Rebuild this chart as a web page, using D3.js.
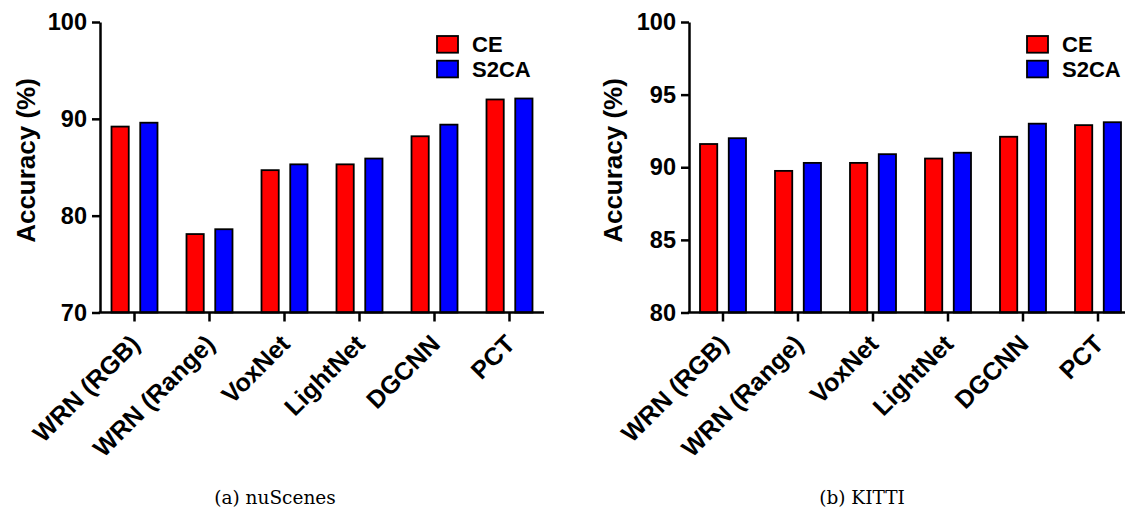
<!DOCTYPE html>
<html>
<head>
<meta charset="utf-8">
<script src="https://cdn.jsdelivr.net/npm/d3@7"></script>
<style>
  body { margin: 0; background: #fff; }
  svg { display: block; }
  text { font-family: "Liberation Sans", Arial, sans-serif; font-weight: bold; fill: #000; }
  .caption { font-family: "DejaVu Serif", "Liberation Serif", serif; font-weight: normal; }
</style>
</head>
<body>
<svg id="chart"></svg>
<script>
const categories = ["WRN (RGB)", "WRN (Range)", "VoxNet", "LightNet", "DGCNN", "PCT"];
const series = ["CE", "S2CA"];
const colors = ["#ff0000", "#0000ff"];

const nuScenesCE = [89.2, 78.1, 84.7, 85.3, 88.2, 92.0];
const nuScenesS2CA = [89.6, 78.6, 85.3, 85.9, 89.4, 92.1];
const nuScenesTicks = [70, 80, 90, 100];

const kittiCE = [91.6, 89.75, 90.3, 90.6, 92.1, 92.9];
const kittiS2CA = [92.0, 90.3, 90.9, 91.0, 93.0, 93.1];
const kittiTicks = [80, 85, 90, 95, 100];

const W = 1127, H = 510;
const svg = d3.select("#chart").attr("width", W).attr("height", H);

function drawPanel(opts) {
  const g = svg.append("g");
  const rows = categories.map((c, i) => ({ name: c, values: [opts.ce[i], opts.s2ca[i]] }));

  const y = d3.scaleLinear()
    .domain(d3.extent(opts.ticks))
    .range([312.5, 22]);

  const x0 = d3.scaleBand()
    .domain(categories)
    .range(opts.band);

  const x1 = d3.scaleBand()
    .domain(series)
    .range([-23, 23])
    .paddingInner(0.4);

  const groupCenter = (d) => x0(d) + x0.bandwidth() / 2;

  // bars
  const groups = g.selectAll(".grp")
    .data(rows)
    .join("g")
    .attr("class", "grp")
    .attr("transform", (d) => `translate(${groupCenter(d.name)},0)`);

  groups.selectAll("rect")
    .data((d) => d.values.map((v, i) => ({ s: series[i], v, i })))
    .join("rect")
    .attr("x", (d) => x1(d.s))
    .attr("width", x1.bandwidth())
    .attr("y", (d) => y(d.v))
    .attr("height", (d) => y.range()[0] - y(d.v))
    .attr("fill", (d) => colors[d.i])
    .attr("stroke", "#000")
    .attr("stroke-width", 1.8);

  // y axis
  const yAxis = g.append("g")
    .attr("transform", `translate(${opts.axisX},0)`)
    .call(d3.axisLeft(y).tickValues(opts.ticks).tickSize(8).tickSizeOuter(0).tickPadding(5));
  yAxis.select(".domain").attr("stroke-width", 2.5);
  yAxis.selectAll(".tick line").attr("stroke-width", 2.5);
  yAxis.selectAll(".tick text")
    .style("font-size", "23.5px")
    .style("font-family", "'Liberation Sans', Arial, sans-serif")
    .style("font-weight", "bold");

  // x axis
  const xAxis = g.append("g")
    .attr("transform", `translate(0,${y.range()[0]})`)
    .call(d3.axisBottom(x0).tickSize(9).tickSizeOuter(0));
  xAxis.select(".domain").remove();
  xAxis.selectAll(".tick line").attr("stroke-width", 2.5);
  xAxis.selectAll(".tick text")
    .attr("x", 0)
    .attr("y", 0)
    .attr("dy", 0)
    .attr("text-anchor", "end")
    .attr("transform", "translate(7,33) rotate(-45)")
    .style("font-size", "25px")
    .style("font-family", "'Liberation Sans', Arial, sans-serif")
    .style("font-weight", "bold");

  g.append("line")
    .attr("x1", opts.axisX - 1.25)
    .attr("x2", opts.axisEnd)
    .attr("y1", y.range()[0])
    .attr("y2", y.range()[0])
    .attr("stroke", "#000")
    .attr("stroke-width", 2.5);

  // y label
  g.append("text")
    .attr("transform", `translate(${opts.labelX},${160.5}) rotate(-90)`)
    .attr("text-anchor", "middle")
    .style("font-size", "26px")
    .text("Accuracy (%)");

  // legend
  const leg = g.selectAll(".leg")
    .data(series)
    .join("g")
    .attr("class", "leg")
    .attr("transform", (d, i) => `translate(${opts.legendX},${36 + i * 24.7})`);
  leg.append("rect")
    .attr("width", 21)
    .attr("height", 16.7)
    .attr("fill", (d, i) => colors[i])
    .attr("stroke", "#000")
    .attr("stroke-width", 1.8);
  leg.append("text")
    .attr("x", 35)
    .attr("y", 16)
    .style("font-size", "22px")
    .text((d) => d);

  // caption
  svg.append("text")
    .attr("class", "caption")
    .attr("x", opts.captionX)
    .attr("y", 504)
    .attr("text-anchor", "middle")
    .style("font-size", "18.5px")
    .text(opts.caption);
}

drawPanel({
  ce: nuScenesCE, s2ca: nuScenesS2CA, ticks: nuScenesTicks,
  band: [97, 547], axisX: 100, axisEnd: 544,
  labelX: 35, legendX: 437, captionX: 275, caption: "(a) nuScenes"
});

drawPanel({
  ce: kittiCE, s2ca: kittiS2CA, ticks: kittiTicks,
  band: [685.5, 1135.5], axisX: 689, axisEnd: 1125,
  labelX: 621.5, legendX: 1027, captionX: 862, caption: "(b) KITTI"
});
</script>
</body>
</html>
